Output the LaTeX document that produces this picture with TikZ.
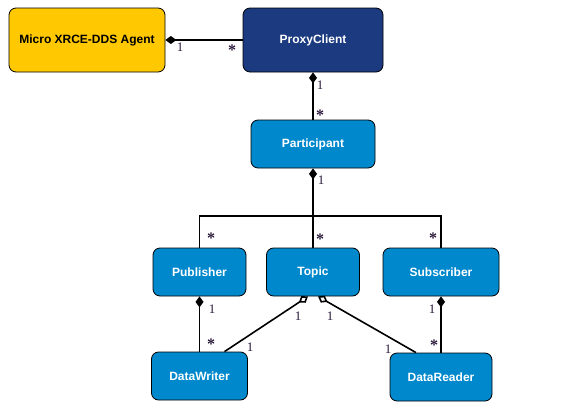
\documentclass[tikz,border=0pt]{standalone}
\usepackage{fontspec}
\setmainfont{Liberation Sans}
\newfontfamily\multfont{Liberation Serif}
\usetikzlibrary{arrows.meta}
\definecolor{agentyellow}{HTML}{FFC800}
\definecolor{proxyblue}{HTML}{1B3A80}
\definecolor{ddsblue}{HTML}{0088CC}
\definecolor{multcol}{HTML}{2A1A3A}
\begin{document}
\begin{tikzpicture}[x=1pt,y=-1pt,
    box/.style={draw=black, line width=0.8pt, rounded corners=7pt, fill=ddsblue, text=white, inner sep=0pt, font=\fontsize{12}{14}\selectfont\bfseries},
    link/.style={line width=1.6pt},
    comp/.style={link, {Diamond[length=11pt,width=8pt]}-},
    aggr/.style={link, {Diamond[open,length=11pt,width=8pt]}-},
    mult/.style={inner sep=0pt, text=multcol, font=\multfont\fontsize{13}{14}\selectfont},
    many/.style={mult, font=\multfont\fontsize{16}{16}\selectfont\bfseries}]
  \useasboundingbox (0,0) rectangle (565,415);
  % classes
  \node[box, fill=agentyellow, text=black, minimum width=156pt, minimum height=64pt] (agent) at (87,40) {Micro XRCE-DDS Agent};
  \node[box, fill=proxyblue, minimum width=140pt, minimum height=64pt] (proxy) at (313,40) {ProxyClient};
  \node[box, minimum width=124pt, minimum height=48pt] (part) at (313,144) {Participant};
  \node[box, minimum width=93pt, minimum height=48pt] (pub) at (199.5,272) {Publisher};
  \node[box, minimum width=93pt, minimum height=48pt] (topic) at (313,272) {Topic};
  \node[box, minimum width=116pt, minimum height=48pt] (sub) at (441,272) {Subscriber};
  \node[box, minimum width=96pt, minimum height=48pt] (writer) at (199.5,376) {DataWriter};
  \node[box, minimum width=102pt, minimum height=48pt] (reader) at (441,377) {DataReader};
  \coordinate (fork) at (313,216);
  % associations
  \draw[comp] (agent.east) -- (proxy.west);
  \draw[comp] (proxy.south) -- (part.north);
  \draw[comp] (part.south) -- (topic.north);
  \draw[line width=1.2pt] (pub.north) -- (pub.north |- fork) -- (sub.north |- fork) -- (sub.north);
  \draw[comp] (pub.south) -- (writer.north);
  \draw[comp] (sub.south) -- (reader.north);
  \draw[aggr] ([xshift=-5pt]topic.south) -- ([xshift=25pt]writer.north);
  \draw[aggr] ([xshift=5pt]topic.south) -- ([xshift=-25pt]reader.north);
  % multiplicities
  \node[mult] (m1) at (180,47) {1};
  \node[many] (m2) at (232,50) {*};
  \node[mult] (m3) at (320,85) {1};
  \node[many] (m4) at (320,115) {*};
  \node[mult] (m5) at (321,180) {1};
  \node[many] (m6) at (211,238) {*};
  \node[many] (m7) at (320,239) {*};
  \node[many] (m8) at (433,238) {*};
  \node[mult] (m9) at (212,309) {1};
  \node[many] (m10) at (211,344) {*};
  \node[mult] (m11) at (432,309) {1};
  \node[many] (m12) at (434,345) {*};
  \node[mult] (m13) at (298,316) {1};
  \node[mult] (m14) at (250,347) {1};
  \node[mult] (m15) at (330,316) {1};
  \node[mult] (m16) at (388,349) {1};
\end{tikzpicture}
\end{document}
